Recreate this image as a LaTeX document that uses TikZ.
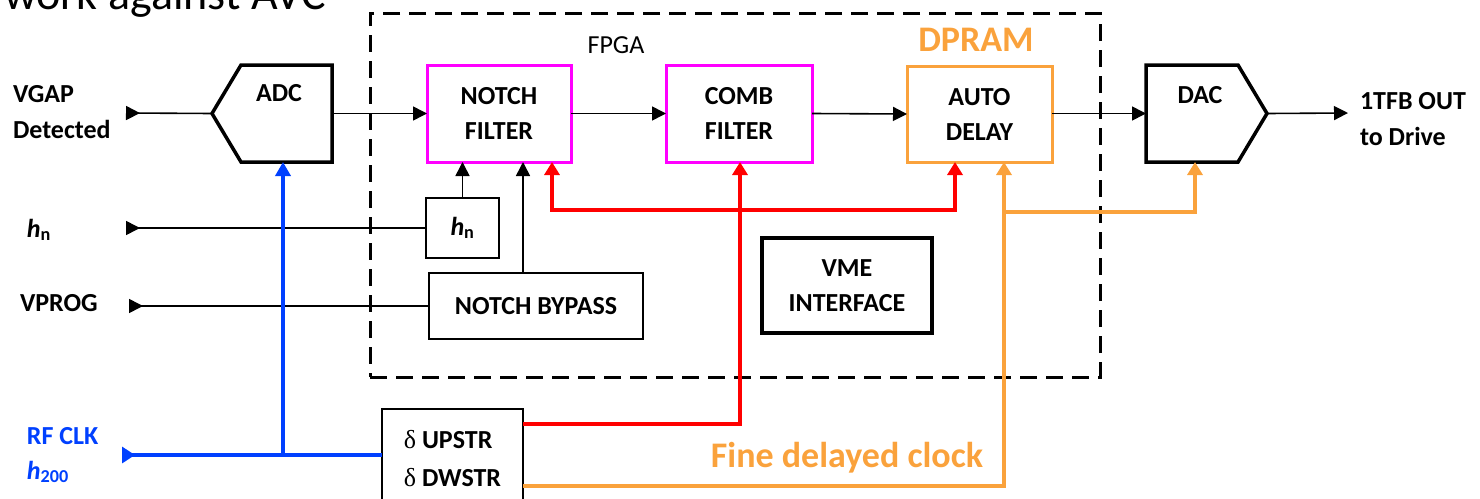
\documentclass[tikz,border=0pt]{standalone}
\usepackage{fontspec}
\setmainfont{Carlito}
\newfontfamily\greekfont{Liberation Serif}
\usetikzlibrary{arrows.meta}
\definecolor{mag}{RGB}{255,0,255}
\definecolor{org}{RGB}{250,162,60}
\definecolor{rfblue}{RGB}{0,64,255}
\definecolor{sigred}{RGB}{255,0,0}
\begin{document}
\begin{tikzpicture}[x=1pt,y=-1pt,
  lbl/.style={font=\fontsize{26}{35}\selectfont\bfseries, inner sep=0pt, outer sep=0pt},
  box/.style={draw, inner sep=0pt, outer sep=0pt, align=center, font=\fontsize{26}{35}\selectfont\bfseries},
  magbox/.style={box, draw=mag, line width=3pt},
  thinbox/.style={box, line width=1.5pt},
  shapebox/.style={inner sep=0pt, outer sep=0pt},
  sig/.style={line width=1.6pt, -{Triangle[length=14pt,width=14pt]}},
  inarr/.style={line width=1.6pt, {Triangle[length=14pt,width=14pt,reversed]}-},
  redarr/.style={draw=sigred, line width=3.5pt, -{Triangle[length=13pt,width=15pt]}},
  orarr/.style={draw=org, line width=3.5pt, -{Triangle[length=13pt,width=15pt]}},
  bluearr/.style={draw=rfblue, line width=3.5pt, -{Triangle[length=14pt,width=15pt]}}
]
\useasboundingbox (0,0) rectangle (1480,498);

% cut-off title
\node[anchor=base west, inner sep=0pt, font=\fontsize{46}{46}\selectfont] (title) at (4,9) {work against AVC};

% FPGA frame
\node[draw, line width=3pt, dash pattern=on 17pt off 9pt, minimum width=730pt, minimum height=364pt, inner sep=0pt] (fpga) at (735,195) {};
\node[inner sep=0pt, font=\fontsize{26}{26}\selectfont] (fpgalbl) at (616,45) {FPGA};

% ADC
\node[shapebox, minimum width=120pt, minimum height=97pt] (adc) at (272,113.5) {};
\draw[line width=3.5pt, line join=miter] (adc.west) -- (241,65) -- (adc.north east) -- (adc.south east) -- (241,162) -- cycle;
\node[lbl] (adclbl) at (279,93) {ADC};

% DAC
\node[shapebox, minimum width=121pt, minimum height=97pt] (dac) at (1206.5,113.5) {};
\draw[line width=3.5pt, line join=miter] (dac.north west) -- (1238,65) -- (dac.east) -- (1238,162) -- (dac.south west) -- cycle;
\node[lbl] (daclbl) at (1200,95) {DAC};

% filter boxes
\node[magbox, minimum width=144pt, minimum height=97pt] (notch) at (499,113.5) {NOTCH\\FILTER};
\node[magbox, minimum width=146pt, minimum height=97pt] (comb) at (739,113.5) {COMB\\FILTER};
\node[box, draw=org, line width=3pt, minimum width=145pt, minimum height=96pt] (auto) at (979.5,114) {AUTO\\DELAY};
\node[lbl, text=org, font=\fontsize{36}{36}\selectfont\bfseries] (dpram) at (976,40) {DPRAM};

% hn and bypass boxes
\node[thinbox, minimum width=73pt, minimum height=60pt] (hnbox) at (462.5,228) {\textit{h}\textsubscript{n}};
\node[thinbox, minimum width=214pt, minimum height=66pt] (bypass) at (536,306) {NOTCH BYPASS};

% VME
\node[box, line width=3.5pt, minimum width=170pt, minimum height=95pt] (vme) at (847,285.5) {VME\\INTERFACE};

% delta box
\node[thinbox, align=left, minimum width=141pt, minimum height=100pt, font=\fontsize{26}{38}\selectfont\bfseries] (dbox) at (452.5,459) {{\greekfont\mdseries δ} UPSTR\\{\greekfont\mdseries δ} DWSTR};

% left labels
\node[lbl, anchor=west, align=left, font=\fontsize{26}{36}\selectfont\bfseries] (vgap) at (13,112) {VGAP\\Detected};
\node[lbl, anchor=west] (hnlbl) at (27,230) {\textit{h}\textsubscript{n}};
\node[lbl, anchor=west] (vprog) at (20,303) {VPROG};
\node[lbl, anchor=west, align=left, text=rfblue] (rfclk) at (27,455) {RF CLK\\\textit{h}\textsubscript{200}};

% right label
\node[lbl, anchor=west, align=left, font=\fontsize{26}{36}\selectfont\bfseries] (out) at (1360,119) {1TFB OUT\\to Drive};
\node[lbl, text=org, font=\fontsize{36}{36}\selectfont\bfseries] (fine) at (847,458) {Fine delayed clock};

% coordinates
\coordinate (vgapin) at (126,113);
\coordinate (hnin) at (126,228);
\coordinate (vprogin) at (129,306);
\coordinate (rfin) at (122,455);
\coordinate (rfj) at (283,455);
\coordinate (outend) at (1348,113);
\coordinate (rb1) at (740,424);
\coordinate (rbL) at (552,210);
\coordinate (rbR) at (955,210);
\coordinate (ob) at (1004,486);
\coordinate (oj) at (1004,212);
\coordinate (od) at (1195,212);

% inputs
\draw[inarr] (vgapin) -- (adc.west);
\draw[inarr] (hnin) -- (hnbox.west);
\draw[inarr] (vprogin) -- (vprogin -| bypass.west);
\draw[draw=rfblue, line width=3.5pt, {Triangle[length=13pt,width=16pt,reversed]}-] (rfin) -- (rfin -| dbox.west);
\draw[bluearr] (rfj) -- (rfj |- adc.south);

% main signal chain
\draw[sig] (adc.east) -- (notch.west);
\draw[sig] (notch.east) -- (comb.west);
\draw[sig] (comb.east) -- (auto.west);
\draw[sig] (auto.east |- dac.west) -- (dac.west);
\draw[sig] (dac.east) -- (outend);

% hn and bypass to notch
\draw[sig] (hnbox.north) -- (hnbox.north |- notch.south);
\draw[sig] ([xshift=-13pt]bypass.north) -- ([xshift=-13pt]bypass.north |- notch.south);

% red lines
\draw[redarr] (dbox.east |- rb1) -- (rb1) -- (rb1 |- comb.south);
\draw[draw=sigred, line width=3.5pt, {Triangle[length=13pt,width=15pt]}-{Triangle[length=13pt,width=15pt]}] (rbL |- notch.south) -- (rbL) -- (rbR) -- (rbR |- auto.south);

% orange lines
\draw[orarr] (dbox.east |- ob) -- (ob) -- (ob |- auto.south);
\draw[orarr] (oj) -- (od) -- (od |- dac.south);
\end{tikzpicture}
\end{document}
